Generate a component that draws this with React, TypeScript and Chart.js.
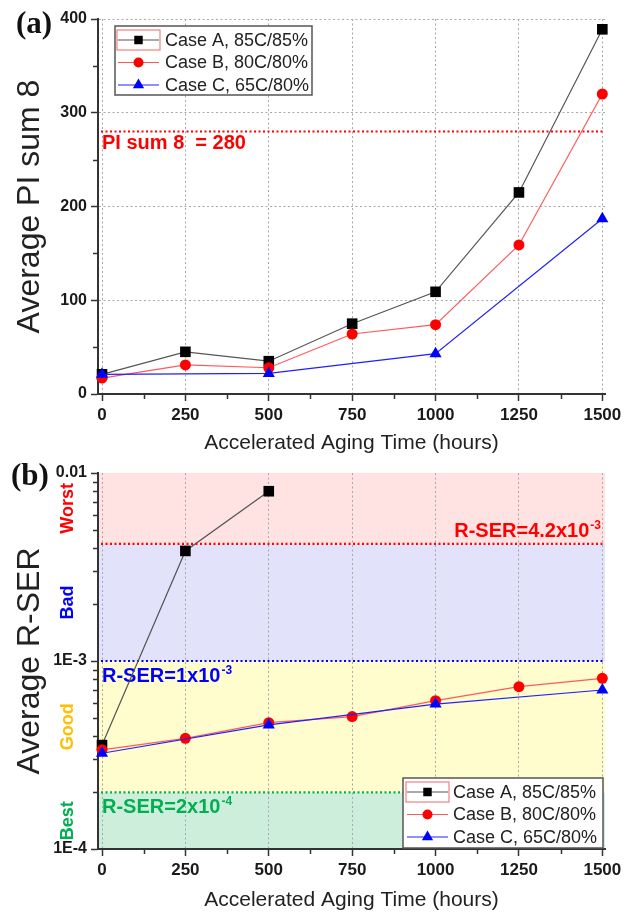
import React, { useEffect, useRef } from 'react';
import { Chart, registerables } from 'chart.js';
Chart.register(...registerables);

// ---------- data ----------
const hours = [0, 250, 500, 750, 1000, 1250, 1500];
const hoursCaseC = [0, 500, 1000, 1500];
const hoursCaseA_RSER = [0, 250, 500];
const xTickValues = [0, 250, 500, 750, 1000, 1250, 1500];
const xMinorTicks = [125, 375, 625, 875, 1125, 1375];

const seriesNames = ['Case A, 85C/85%', 'Case B, 80C/80%', 'Case C, 65C/80%'];

const piCaseA = [21, 45, 35, 75, 109, 215, 389];
const piCaseB = [17, 31, 28, 64, 74, 159, 320];
const piCaseC = [21, 22, 43, 187];
const piTicks = [0, 100, 200, 300, 400];
const piMinorTicks = [50, 150, 250, 350];
const piThreshold = 280;
const piThresholdLabel = 'PI sum 8  = 280';

const rserCaseA = [3.57e-4, 3.85e-3, 8.0e-3];
const rserCaseB = [3.37e-4, 3.88e-4, 4.7e-4, 5.06e-4, 6.15e-4, 7.3e-4, 8.09e-4];
const rserCaseC = [3.23e-4, 4.57e-4, 5.9e-4, 7.01e-4];
const rserTicks = [1e-4, 1e-3, 1e-2];
const rserTickLabels = ['1E-4', '1E-3', '0.01'];
const rserMinorTicks = [2e-4, 3e-4, 4e-4, 5e-4, 6e-4, 7e-4, 8e-4, 9e-4, 2e-3, 3e-3, 4e-3, 5e-3, 6e-3, 7e-3, 8e-3, 9e-3];
const rserThresholds = [2e-4, 1e-3, 4.2e-3];
const rserThresholdBase = ['R-SER=2x10', 'R-SER=1x10', 'R-SER=4.2x10'];
const rserThresholdSup = ['-4', '-3', '-3'];
const bandEdges = [1e-4, 2e-4, 1e-3, 4.2e-3, 1e-2];
const bandNames = ['Best', 'Good', 'Bad', 'Worst'];

// ---------- styles ----------
const SANS = "'Liberation Sans', Arial, sans-serif";
const SERIF = "'Liberation Serif', 'Times New Roman', serif";
const colA = '#000000';
const colB = '#ff0000';
const colC = '#0000ff';
const lineA = '#555555';
const lineB = '#ff5a5a';
const lineC = '#2020ff';
const thresholdColors = ['#00b050', '#0000ff', '#ff0000'];
const bandColors = ['#cdeedb', '#fffccd', '#e2e2fa', '#ffe2e2'];
const bandTextColors = ['#00b050', '#ffc000', '#0000ff', '#ff0000'];
const markerRadius = [7.5, 5.5, 7];

function drawMarker(ctx: CanvasRenderingContext2D, style: string, x: number, y: number, r: number, color: string) {
  ctx.save();
  ctx.fillStyle = color;
  ctx.beginPath();
  if (style === 'rect') {
    const s = r * Math.SQRT1_2;
    ctx.rect(x - s, y - s, 2 * s, 2 * s);
  } else if (style === 'circle') {
    ctx.arc(x, y, r, 0, Math.PI * 2);
  } else {
    ctx.moveTo(x, y - r);
    ctx.lineTo(x + r * 0.866, y + r * 0.5);
    ctx.lineTo(x - r * 0.866, y + r * 0.5);
    ctx.closePath();
  }
  ctx.fill();
  ctx.restore();
}

type LegendGeom = { left: number; top: number; right: number; bottom: number; rowY: number[]; lineX1: number; lineX2: number; textX: number; selTop: number; selBottom: number };

function legendPlugin(g: LegendGeom) {
  return {
    id: 'customLegend',
    afterDraw(chart: any) {
      const ctx: CanvasRenderingContext2D = chart.ctx;
      ctx.save();
      ctx.fillStyle = '#ffffff';
      ctx.fillRect(g.left, g.top, g.right - g.left, g.bottom - g.top);
      ctx.strokeStyle = '#555';
      ctx.lineWidth = 1.5;
      ctx.strokeRect(g.left, g.top, g.right - g.left, g.bottom - g.top);
      const styles = ['rect', 'circle', 'triangle'];
      const lcols = [lineA, lineB, lineC];
      const mcols = [colA, colB, colC];
      const radii = [6, 5, 6.5];
      seriesNames.forEach((name, i) => {
        const y = g.rowY[i];
        ctx.strokeStyle = lcols[i];
        ctx.lineWidth = 1.2;
        ctx.beginPath();
        ctx.moveTo(g.lineX1, y);
        ctx.lineTo(g.lineX2, y);
        ctx.stroke();
        drawMarker(ctx, styles[i], (g.lineX1 + g.lineX2) / 2, y, radii[i], mcols[i]);
        ctx.fillStyle = '#222';
        ctx.font = `18px ${SANS}`;
        ctx.textBaseline = 'middle';
        ctx.textAlign = 'left';
        ctx.fillText(name, g.textX, y + 1);
      });
      ctx.strokeStyle = '#f08080';
      ctx.lineWidth = 1.2;
      ctx.strokeRect(g.lineX1 - 1, g.selTop, g.lineX2 - g.lineX1 + 2, g.selBottom - g.selTop);
      ctx.restore();
    },
  };
}

function minorTicksPlugin(xMinor: number[], yMinor: number[]) {
  return {
    id: 'minorTicks',
    afterDraw(chart: any) {
      const { ctx, chartArea } = chart;
      const xs = chart.scales.x;
      const ys = chart.scales.y;
      ctx.save();
      ctx.strokeStyle = '#333';
      ctx.lineWidth = 1.5;
      ctx.beginPath();
      xMinor.forEach((v) => {
        const px = Math.round(xs.getPixelForValue(v)) + 0.5;
        ctx.moveTo(px, chartArea.bottom);
        ctx.lineTo(px, chartArea.bottom + 5);
      });
      yMinor.forEach((v) => {
        const py = Math.round(ys.getPixelForValue(v)) + 0.5;
        ctx.moveTo(chartArea.left, py);
        ctx.lineTo(chartArea.left - 5, py);
      });
      ctx.stroke();
      ctx.restore();
    },
  };
}

function panelLabelPlugin(text: string, x: number, y: number) {
  return {
    id: 'panelLabel',
    afterDraw(chart: any) {
      const ctx: CanvasRenderingContext2D = chart.ctx;
      ctx.save();
      ctx.fillStyle = '#111';
      ctx.font = `bold 31px ${SERIF}`;
      ctx.textAlign = 'left';
      ctx.textBaseline = 'alphabetic';
      ctx.fillText(text, x, y);
      ctx.restore();
    },
  };
}

function drawDotted(ctx: CanvasRenderingContext2D, x1: number, x2: number, y: number, color: string) {
  ctx.save();
  ctx.strokeStyle = color;
  ctx.lineWidth = 2.2;
  ctx.setLineDash([2, 2.5]);
  ctx.beginPath();
  ctx.moveTo(x1, y);
  ctx.lineTo(x2, y);
  ctx.stroke();
  ctx.restore();
}

function drawSupText(ctx: CanvasRenderingContext2D, base: string, sup: string, x: number, y: number, align: 'left' | 'right', color: string) {
  ctx.save();
  ctx.fillStyle = color;
  ctx.textBaseline = 'alphabetic';
  ctx.textAlign = 'left';
  const bf = `bold 20px ${SANS}`;
  const sf = `bold 12px ${SANS}`;
  ctx.font = bf;
  const bw = ctx.measureText(base).width;
  ctx.font = sf;
  const sw = ctx.measureText(sup).width;
  const startX = align === 'left' ? x : x - bw - sw - 1;
  ctx.font = bf;
  ctx.fillText(base, startX, y);
  ctx.font = sf;
  ctx.fillText(sup, startX + bw + 1, y - 8);
  ctx.restore();
}

const piThresholdPlugin = {
  id: 'piThreshold',
  beforeDatasetsDraw(chart: any) {
    const { ctx, chartArea } = chart;
    const py = chart.scales.y.getPixelForValue(piThreshold);
    drawDotted(ctx, chartArea.left + 3, chartArea.right, py, '#ff0000');
    ctx.save();
    ctx.fillStyle = '#ff0000';
    ctx.font = `bold 20px ${SANS}`;
    ctx.textAlign = 'left';
    ctx.textBaseline = 'alphabetic';
    ctx.fillText(piThresholdLabel, chartArea.left + 4, py + 17);
    ctx.restore();
  },
};

const rserBandsPlugin = {
  id: 'rserBands',
  beforeDraw(chart: any) {
    const { ctx, chartArea } = chart;
    const ys = chart.scales.y;
    ctx.save();
    for (let i = 0; i < bandEdges.length - 1; i++) {
      const yLow = ys.getPixelForValue(bandEdges[i]);
      const yHigh = ys.getPixelForValue(bandEdges[i + 1]);
      ctx.fillStyle = bandColors[i];
      ctx.fillRect(chartArea.left, yHigh, chartArea.right - chartArea.left, yLow - yHigh);
      const yc = (yLow + yHigh) / 2;
      ctx.save();
      ctx.translate(68, yc);
      ctx.rotate(-Math.PI / 2);
      ctx.fillStyle = bandTextColors[i];
      ctx.font = `bold 18px ${SANS}`;
      ctx.textAlign = 'center';
      ctx.textBaseline = 'middle';
      ctx.fillText(bandNames[i], 0, 0);
      ctx.restore();
    }
    ctx.restore();
  },
  beforeDatasetsDraw(chart: any) {
    const { ctx, chartArea } = chart;
    const ys = chart.scales.y;
    rserThresholds.forEach((v, i) => {
      const py = ys.getPixelForValue(v);
      drawDotted(ctx, chartArea.left + 3, chartArea.right, py, thresholdColors[i]);
      if (i === 2) {
        drawSupText(ctx, rserThresholdBase[i], rserThresholdSup[i], chartArea.right - 4, py - 7, 'right', thresholdColors[i]);
      } else {
        drawSupText(ctx, rserThresholdBase[i], rserThresholdSup[i], chartArea.left + 4, py + 21, 'left', thresholdColors[i]);
      }
    });
  },
};

function xScale(canvasHeight: number, areaBottom: number) {
  return {
    type: 'linear',
    min: -12,
    max: 1508,
    afterBuildTicks: (s: any) => {
      s.ticks = xTickValues.map((v) => ({ value: v }));
    },
    afterFit: (s: any) => {
      s.height = canvasHeight - areaBottom;
    },
    grid: { color: '#a8a8a8', lineWidth: 1, drawTicks: true, tickLength: 7, tickColor: '#333', tickWidth: 1.5 },
    border: { display: true, color: '#333', width: 2, dash: [2, 2.5] },
    ticks: { font: { family: SANS, weight: 'bold', size: 17 }, color: '#1a1a1a', padding: 4, maxRotation: 0, autoSkip: false, callback: (v: any) => String(v) },
    title: { display: true, text: 'Accelerated Aging Time (hours)', font: { family: SANS, size: 21, lineHeight: 1.2 }, color: '#222', padding: { top: 0, bottom: 0 } },
  };
}

function yTitle(text: string) {
  return { display: true, text, font: { family: SANS, size: 32, lineHeight: 1.2 }, color: '#222', padding: { top: 11, bottom: 0 } };
}

function datasetsFor(xA: number[], yA: number[], xB: number[], yB: number[], xC: number[], yC: number[]) {
  return [
    { label: seriesNames[0], data: xA.map((h, i) => ({ x: h, y: yA[i] })), borderColor: lineA, borderWidth: 1.2, pointStyle: 'rect', pointRadius: markerRadius[0], pointBackgroundColor: colA, pointBorderColor: colA, pointBorderWidth: 0, order: 3 },
    { label: seriesNames[1], data: xB.map((h, i) => ({ x: h, y: yB[i] })), borderColor: lineB, borderWidth: 1.2, pointStyle: 'circle', pointRadius: markerRadius[1], pointBackgroundColor: colB, pointBorderColor: colB, pointBorderWidth: 0, order: 2 },
    { label: seriesNames[2], data: xC.map((h, i) => ({ x: h, y: yC[i] })), borderColor: lineC, borderWidth: 1.2, pointStyle: 'triangle', pointRadius: markerRadius[2], pointBackgroundColor: colC, pointBorderColor: colC, pointBorderWidth: 0, order: 1 },
  ];
}

function configA() {
  const H = 456;
  return {
    type: 'line',
    data: { datasets: datasetsFor(hours, piCaseA, hours, piCaseB, hoursCaseC, piCaseC) },
    options: {
      responsive: false,
      animation: false,
      clip: false,
      layout: { padding: { top: 19, right: 27, left: 0, bottom: 0 } },
      plugins: { legend: { display: false }, tooltip: { enabled: false } },
      elements: { line: { tension: 0 } },
      scales: {
        x: xScale(H, 394),
        y: {
          type: 'linear',
          min: 0,
          max: 400,
          afterBuildTicks: (s: any) => {
            s.ticks = piTicks.map((v) => ({ value: v }));
          },
          afterFit: (s: any) => {
            s.width = 98;
          },
          grid: { color: '#a8a8a8', lineWidth: 1, drawTicks: true, tickLength: 7, tickColor: '#333', tickWidth: 1.5 },
          border: { display: true, color: '#333', width: 2, dash: [2, 2.5] },
          ticks: { font: { family: SANS, weight: 'bold', size: 16 }, color: '#1a1a1a', padding: 4, callback: (v: any) => String(v) },
          title: yTitle('Average PI sum 8'),
        },
      },
    },
    plugins: [
      piThresholdPlugin,
      minorTicksPlugin(xMinorTicks, piMinorTicks),
      legendPlugin({ left: 115, top: 26, right: 312, bottom: 95, rowY: [40, 62.5, 85], lineX1: 118, lineX2: 159, textX: 165, selTop: 30, selBottom: 50 }),
      panelLabelPlugin('(a)', 16, 33),
    ],
  };
}

function configB() {
  const H = 457;
  return {
    type: 'line',
    data: { datasets: datasetsFor(hoursCaseA_RSER, rserCaseA, hours, rserCaseB, hoursCaseC, rserCaseC) },
    options: {
      responsive: false,
      animation: false,
      clip: false,
      layout: { padding: { top: 17, right: 27, left: 0, bottom: 0 } },
      plugins: { legend: { display: false }, tooltip: { enabled: false } },
      elements: { line: { tension: 0 } },
      scales: {
        x: xScale(H, 393),
        y: {
          type: 'logarithmic',
          min: 1e-4,
          max: 1e-2,
          afterBuildTicks: (s: any) => {
            s.ticks = rserTicks.map((v) => ({ value: v }));
          },
          afterFit: (s: any) => {
            s.width = 98;
          },
          grid: { drawOnChartArea: false, drawTicks: true, tickLength: 7, tickColor: '#333', tickWidth: 1.5 },
          border: { display: true, color: '#333', width: 2 },
          ticks: { font: { family: SANS, weight: 'bold', size: 16 }, color: '#1a1a1a', padding: 4, callback: (_v: any, i: number) => rserTickLabels[i] },
          title: yTitle('Average R-SER'),
        },
      },
    },
    plugins: [
      rserBandsPlugin,
      minorTicksPlugin(xMinorTicks, rserMinorTicks),
      legendPlugin({ left: 403, top: 322, right: 603, bottom: 392, rowY: [336, 358.5, 381], lineX1: 407, lineX2: 448, textX: 453, selTop: 326, selBottom: 346 }),
      panelLabelPlugin('(b)', 11, 29),
    ],
  };
}

function ChartCanvas({ height, makeConfig }: { height: number; makeConfig: () => any }) {
  const ref = useRef<HTMLCanvasElement>(null);
  useEffect(() => {
    const chart = new Chart(ref.current as HTMLCanvasElement, makeConfig());
    return () => chart.destroy();
  }, []);
  return <canvas ref={ref} width={632} height={height} style={{ display: 'block', width: 632, height }} />;
}

export default function App() {
  return (
    <div style={{ position: 'absolute', left: 0, top: 0, width: 632, height: 913, background: '#fff' }}>
      <ChartCanvas height={456} makeConfig={configA} />
      <ChartCanvas height={457} makeConfig={configB} />
    </div>
  );
}
